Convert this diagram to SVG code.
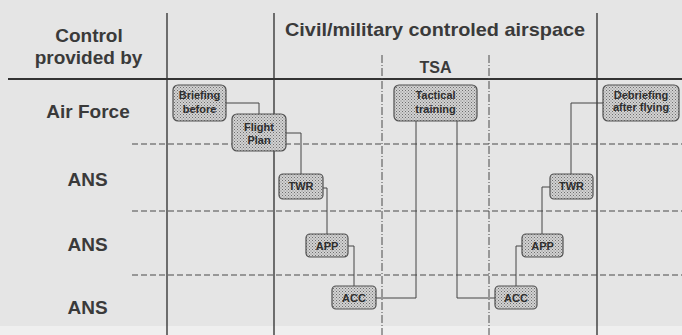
<svg xmlns="http://www.w3.org/2000/svg" width="682" height="335" viewBox="0 0 682 335">
<defs>
<pattern id="dots" width="3" height="3" patternUnits="userSpaceOnUse">
<rect width="3" height="3" fill="#d2d2d2"/>
<rect x="0" y="0" width="1" height="1" fill="#6e6e6e"/>
<rect x="1.5" y="1.5" width="1" height="1" fill="#808080"/>
</pattern>
</defs>
<style>
.grid{stroke:#3a3a3a;stroke-width:1.4;fill:none}
.head{stroke:#333;stroke-width:2.2;fill:none}
.dash{stroke:#4a4a4a;stroke-width:1.1;stroke-dasharray:6 3;fill:none}
.tsa{stroke:#4a4a4a;stroke-width:1;stroke-dasharray:8 2 1 2;fill:none}
.conn{stroke:#444;stroke-width:1;fill:none}
.box{fill:url(#dots);stroke:#505050;stroke-width:1.2}
.lbl{font-family:"Liberation Sans",Arial,sans-serif;font-weight:bold;font-size:19px;fill:#3a3a3a;text-anchor:middle}
.ntx{font-family:"Liberation Sans",Arial,sans-serif;font-weight:bold;font-size:11px;fill:#2e2e2e;text-anchor:middle}
</style>
<rect width="682" height="335" fill="#e5e5e5"/>
<rect x="0" y="326" width="682" height="9" fill="#efefef"/>
<g id="grid">
<line class="grid" x1="167" y1="13" x2="167" y2="335"/>
<line class="grid" x1="274" y1="13" x2="274" y2="335"/>
<line class="grid" x1="597" y1="13" x2="597" y2="335"/>
<line class="head" x1="8" y1="79" x2="682" y2="79"/>
<line class="dash" x1="132" y1="144" x2="682" y2="144"/>
<line class="dash" x1="132" y1="211" x2="682" y2="211"/>
<line class="dash" x1="132" y1="275" x2="682" y2="275"/>
<line class="tsa" x1="382" y1="55" x2="382" y2="335"/>
<line class="tsa" x1="489" y1="55" x2="489" y2="335"/>
</g>
<g id="labels">
<text class="lbl" x="89" y="42">Control</text>
<text class="lbl" x="88.5" y="64">provided by</text>
<text class="lbl" x="435" y="36" textLength="300" lengthAdjust="spacingAndGlyphs">Civil/military controled airspace</text>
<text class="lbl" x="435.5" y="73" style="font-size:16px">TSA</text>
<text class="lbl" x="88" y="118">Air Force</text>
<text class="lbl" x="87.5" y="186">ANS</text>
<text class="lbl" x="87.5" y="251">ANS</text>
<text class="lbl" x="87.5" y="314">ANS</text>
</g>
<g id="connectors">
<polyline class="conn" points="226,103 259,103 259,114"/>
<polyline class="conn" points="286,133 301,133 301,174"/>
<polyline class="conn" points="323,188 327,188 327,234"/>
<polyline class="conn" points="348,246 354,246 354,286"/>
<polyline class="conn" points="376,298 416,298 416,121"/>
<polyline class="conn" points="457,121 457,298 495,298"/>
<polyline class="conn" points="516,286 516,246 522,246"/>
<polyline class="conn" points="542,234 542,187 550,187"/>
<polyline class="conn" points="571,174 571,103 603,103"/>
</g>
<g id="briefing">
<rect class="box" x="173" y="85" width="53" height="36" rx="5"/>
<text class="ntx" x="199.5" y="99">Briefing</text>
<text class="ntx" x="199.5" y="113">before</text>
</g>
<g id="flightplan">
<rect class="box" x="232" y="114" width="54" height="37" rx="5"/>
<text class="ntx" x="259" y="131">Flight</text>
<text class="ntx" x="259" y="144">Plan</text>
</g>
<g id="twr1">
<rect class="box" x="279" y="174" width="44" height="25" rx="4"/>
<text class="ntx" x="301" y="190">TWR</text>
</g>
<g id="app1">
<rect class="box" x="306" y="234" width="42" height="23" rx="4"/>
<text class="ntx" x="327" y="250">APP</text>
</g>
<g id="acc1">
<rect class="box" x="332" y="286" width="44" height="23" rx="4"/>
<text class="ntx" x="354" y="302">ACC</text>
</g>
<g id="tactical">
<rect class="box" x="394" y="85" width="83" height="36" rx="5"/>
<text class="ntx" x="435.5" y="99">Tactical</text>
<text class="ntx" x="435.5" y="113">training</text>
</g>
<g id="acc2">
<rect class="box" x="495" y="286" width="42" height="23" rx="4"/>
<text class="ntx" x="516" y="302">ACC</text>
</g>
<g id="app2">
<rect class="box" x="522" y="234" width="41" height="23" rx="4"/>
<text class="ntx" x="542.5" y="250">APP</text>
</g>
<g id="twr2">
<rect class="box" x="550" y="174" width="43" height="25" rx="4"/>
<text class="ntx" x="571.5" y="190">TWR</text>
</g>
<g id="debriefing">
<rect class="box" x="603" y="85" width="76" height="36" rx="5"/>
<text class="ntx" x="641" y="99">Debriefing</text>
<text class="ntx" x="641" y="111">after flying</text>
</g>
</svg>
